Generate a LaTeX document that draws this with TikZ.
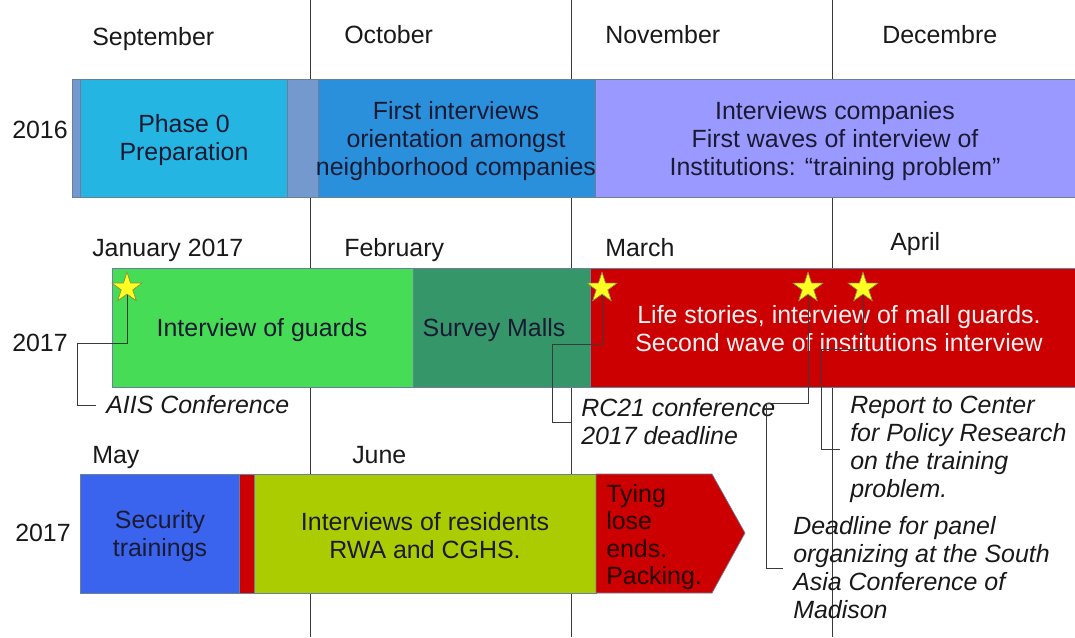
\documentclass[tikz,border=0pt]{standalone}
\usepackage{fontspec}
\setmainfont{Liberation Sans}
\usetikzlibrary{shapes.geometric}
\definecolor{steel}{HTML}{7499CE}
\definecolor{cyanbox}{HTML}{25B5E2}
\definecolor{bluebox}{HTML}{2A90DC}
\definecolor{lavbox}{HTML}{9999FF}
\definecolor{greenbox}{HTML}{47DC55}
\definecolor{dgreenbox}{HTML}{35966A}
\definecolor{redbox}{HTML}{CC0000}
\definecolor{royalbox}{HTML}{3B64EE}
\definecolor{limebox}{HTML}{AACC00}
\definecolor{txtdark}{HTML}{1A1A33}
\definecolor{linegray}{HTML}{3A3A3A}
\definecolor{barline}{HTML}{6A7F99}
\definecolor{staryellow}{HTML}{FFFF22}
\definecolor{starline}{HTML}{8A8A3A}
\newcommand\tlfont{\fontsize{18.7}{21}\selectfont}
\begin{document}
\begin{tikzpicture}[x=0.75pt,y=-0.75pt,
  mon/.style={anchor=base west, inner sep=0pt, font=\tlfont, text=black!90},
  boxtxt/.style={align=center, inner sep=0pt, font=\tlfont, text=txtdark},
  callout/.style={anchor=west, align=left, inner xsep=7.5pt, inner ysep=0pt, font=\tlfont\itshape, text=black!90},
  conn/.style={draw=linegray, line width=0.75pt},
  monthline/.style={draw=linegray, line width=0.75pt},
  bar/.style={draw=barline, line width=0.5pt},
  starnode/.style={star, star points=5, star point ratio=2.618, minimum size=23.5pt, inner sep=0pt, fill=staryellow, draw=starline, line width=0.4pt}]
\useasboundingbox (0,0) rectangle (1075,637);
\fill[white] (0,0) rectangle (1075,637);
% month lines
\draw[monthline] (310,0) -- (310,637);
\draw[monthline] (571,0) -- (571,637);
\draw[monthline] (832,0) -- (832,637);
% labels
\node[mon] (sep) at (92,45) {September};
\node[mon] (oct) at (344,43) {October};
\node[mon] (nov) at (605,43) {November};
\node[mon] (dec) at (882,43) {Decembre};
\node[mon] (jan) at (92,256) {January 2017};
\node[mon] (feb) at (344,256) {February};
\node[mon] (mar) at (605,256) {March};
\node[mon] (apr) at (890,250) {April};
\node[mon] (may) at (92,463) {May};
\node[mon] (jun) at (352,463) {June};
\node[mon] (y1) at (12,138) {2016};
\node[mon] (y2) at (12,351) {2017};
\node[mon] (y3) at (15,541) {2017};
% row 1
\filldraw[bar, fill=steel] (72,79) rectangle (1075,197);
\filldraw[bar, fill=cyanbox] (80,79) rectangle (287,197);
\filldraw[bar, fill=bluebox] (318,79) rectangle (595,197);
\filldraw[bar, fill=lavbox] (595,79) rectangle (1075,197);
\node[boxtxt] (p0) at (184,140) {Phase 0\\Preparation};
\node[boxtxt] (fi) at (456,141) {First interviews\\orientation amongst\\neighborhood companies};
\node[boxtxt] (ic) at (835,141) {Interviews companies\\First waves of interview of\\Institutions: “training problem”};
% row 2
\filldraw[bar, fill=greenbox] (112,268) rectangle (413,387);
\filldraw[bar, fill=dgreenbox] (413,268) rectangle (590,387);
\filldraw[bar, fill=redbox] (590,268) rectangle (1075,387);
\node[boxtxt] (ig) at (262,330) {Interview of guards};
\node[boxtxt] (sm) at (494,330) {Survey Malls};
\node[boxtxt, text=white!95!black] (ls) at (839,329) {Life stories, interview of mall guards.\\Second wave of institutions interview};
% row 3
\filldraw[bar, fill=royalbox] (80,474) rectangle (239,593);
\filldraw[bar, fill=redbox] (239,474) rectangle (254,593);
\filldraw[bar, fill=limebox] (254,474) rectangle (596,593);
\filldraw[bar, fill=redbox] (596,474) -- (712,474) -- (745,533) -- (712,593) -- (596,593) -- cycle;
\node[boxtxt] (st) at (160,536) {Security\\trainings};
\node[boxtxt] (ir) at (425,536) {Interviews of residents\\RWA and CGHS.};
\node[boxtxt, anchor=west, align=left, font=\fontsize{18.7}{20.5}\selectfont, text=black!85!red] (ty) at (606,537) {Tying\\lose\\ends.\\Packing.};
% callouts
\node[callout] (aiis) at (96,405) {AIIS Conference};
\node[callout] (rc) at (571,422) {RC21 conference\\2017 deadline};
\node[callout] (rep) at (840,449) {Report to Center\\for Policy Research\\on the training\\problem.};
\node[callout] (dl) at (783,568) {Deadline for panel\\organizing at the South\\Asia Conference of\\Madison};
% stars
\node[starnode] (s1) at (127,288) {};
\node[starnode] (s2) at (602,288) {};
\node[starnode] (s3) at (808,288) {};
\node[starnode] (s4) at (863,288) {};
\coordinate (b1) at (77,343);
\coordinate (b2) at (552,344);
\coordinate (b3) at (766,403);
\coordinate (b4) at (821,349);
\draw[conn] (s1) |- (b1) |- (aiis.west);
\draw[conn] (s2) |- (b2) |- (rc.west);
\draw[conn] (s3) |- (b3) |- (dl.west);
\draw[conn] (s4) |- (b4) |- (rep.west);
\node[starnode] at (s1) {};
\node[starnode] at (s2) {};
\node[starnode] at (s3) {};
\node[starnode] at (s4) {};
\end{tikzpicture}
\end{document}
